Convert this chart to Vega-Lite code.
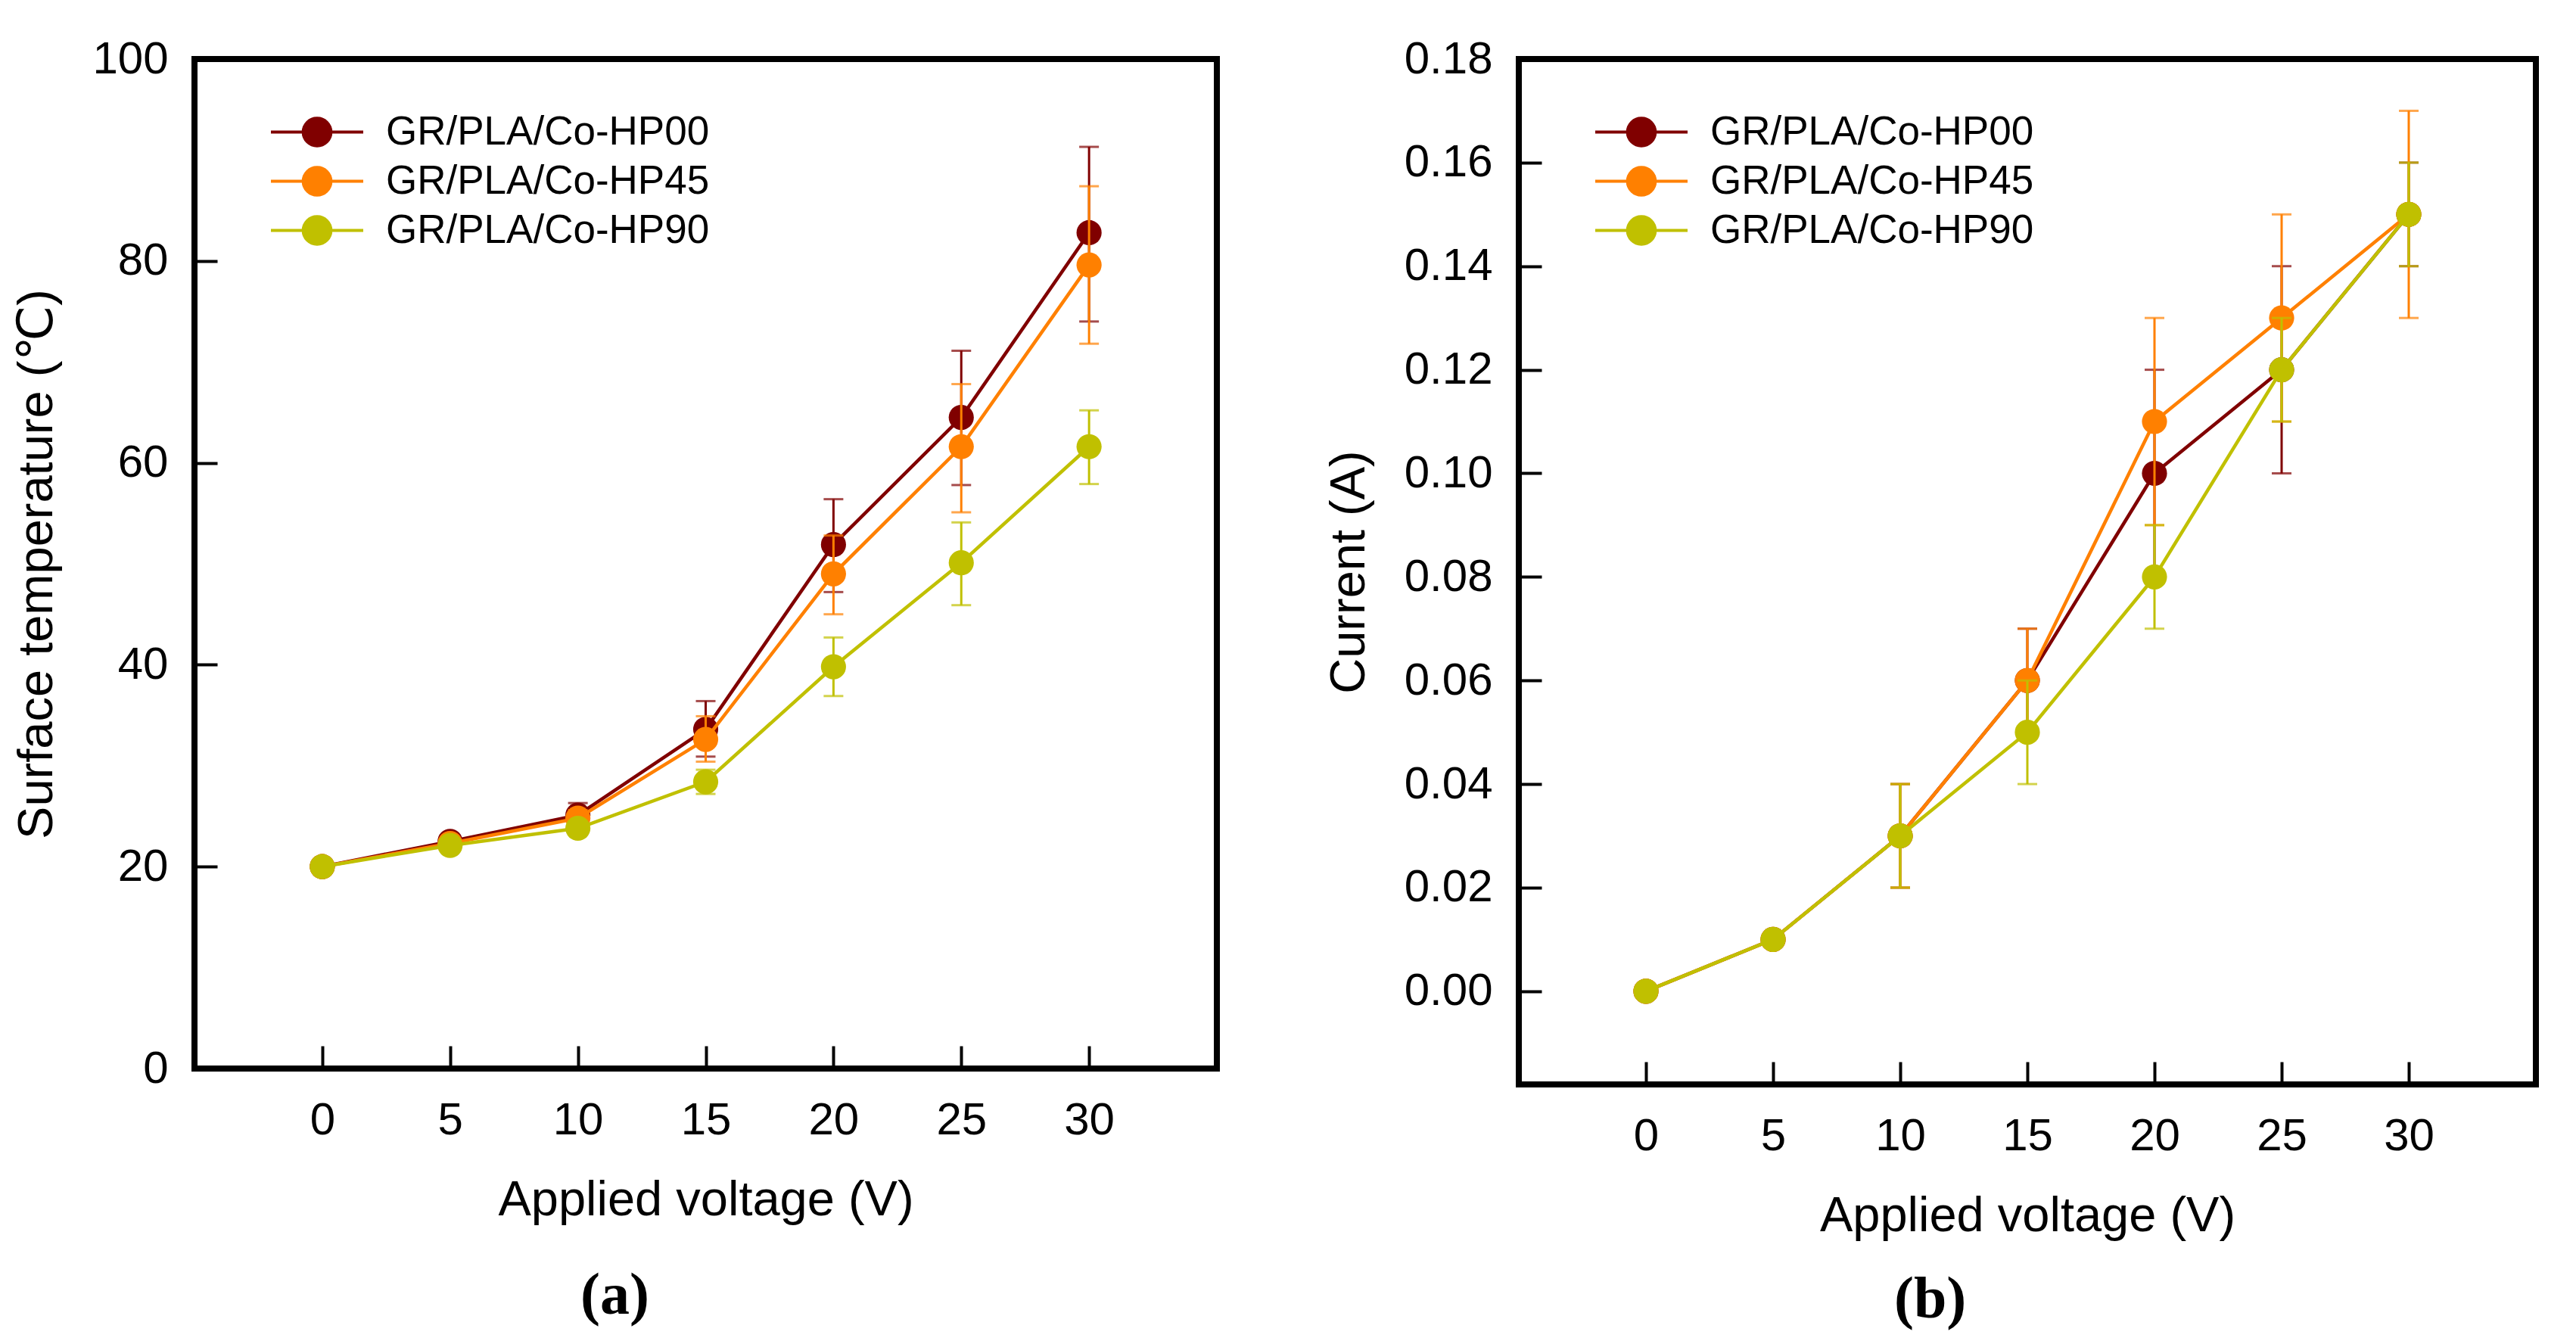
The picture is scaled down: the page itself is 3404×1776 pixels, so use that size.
{
  "$schema": "https://vega.github.io/schema/vega-lite/v6.json",
  "padding": {"left": 12, "top": 44, "right": 0, "bottom": 0},
  "background": "white",
  "datasets": {
    "temp": [
      {"v": 0, "series": "GR/PLA/Co-HP00", "val": 20.0, "lo": 19.7, "hi": 20.3},
      {"v": 5, "series": "GR/PLA/Co-HP00", "val": 22.5, "lo": 22.0, "hi": 23.0},
      {"v": 10, "series": "GR/PLA/Co-HP00", "val": 25.1, "lo": 23.9, "hi": 26.3},
      {"v": 15, "series": "GR/PLA/Co-HP00", "val": 33.6, "lo": 30.9, "hi": 36.4},
      {"v": 20, "series": "GR/PLA/Co-HP00", "val": 51.9, "lo": 47.2, "hi": 56.4},
      {"v": 25, "series": "GR/PLA/Co-HP00", "val": 64.5, "lo": 57.8, "hi": 71.1},
      {"v": 30, "series": "GR/PLA/Co-HP00", "val": 82.8, "lo": 74.0, "hi": 91.3},
      {"v": 0, "series": "GR/PLA/Co-HP45", "val": 20.0, "lo": 19.7, "hi": 20.3},
      {"v": 5, "series": "GR/PLA/Co-HP45", "val": 22.3, "lo": 21.9, "hi": 22.7},
      {"v": 10, "series": "GR/PLA/Co-HP45", "val": 24.8, "lo": 24.0, "hi": 25.6},
      {"v": 15, "series": "GR/PLA/Co-HP45", "val": 32.6, "lo": 30.4, "hi": 34.9},
      {"v": 20, "series": "GR/PLA/Co-HP45", "val": 49.0, "lo": 45.0, "hi": 52.8},
      {"v": 25, "series": "GR/PLA/Co-HP45", "val": 61.6, "lo": 55.1, "hi": 67.8},
      {"v": 30, "series": "GR/PLA/Co-HP45", "val": 79.6, "lo": 71.8, "hi": 87.4},
      {"v": 0, "series": "GR/PLA/Co-HP90", "val": 20.0, "lo": 19.7, "hi": 20.3},
      {"v": 5, "series": "GR/PLA/Co-HP90", "val": 22.1, "lo": 21.7, "hi": 22.5},
      {"v": 10, "series": "GR/PLA/Co-HP90", "val": 23.8, "lo": 23.2, "hi": 24.4},
      {"v": 15, "series": "GR/PLA/Co-HP90", "val": 28.4, "lo": 27.2, "hi": 29.6},
      {"v": 20, "series": "GR/PLA/Co-HP90", "val": 39.8, "lo": 36.9, "hi": 42.7},
      {"v": 25, "series": "GR/PLA/Co-HP90", "val": 50.1, "lo": 45.9, "hi": 54.1},
      {"v": 30, "series": "GR/PLA/Co-HP90", "val": 61.6, "lo": 57.9, "hi": 65.2}
    ],
    "curr": [
      {"v": 0, "series": "GR/PLA/Co-HP00", "val": 0.0, "lo": 0.0, "hi": 0.0},
      {"v": 5, "series": "GR/PLA/Co-HP00", "val": 0.01, "lo": 0.01, "hi": 0.01},
      {"v": 10, "series": "GR/PLA/Co-HP00", "val": 0.03, "lo": 0.02, "hi": 0.04},
      {"v": 15, "series": "GR/PLA/Co-HP00", "val": 0.06, "lo": 0.05, "hi": 0.07},
      {"v": 20, "series": "GR/PLA/Co-HP00", "val": 0.10, "lo": 0.08, "hi": 0.12},
      {"v": 25, "series": "GR/PLA/Co-HP00", "val": 0.12, "lo": 0.10, "hi": 0.14},
      {"v": 30, "series": "GR/PLA/Co-HP00", "val": 0.15, "lo": 0.14, "hi": 0.16},
      {"v": 0, "series": "GR/PLA/Co-HP45", "val": 0.0, "lo": 0.0, "hi": 0.0},
      {"v": 5, "series": "GR/PLA/Co-HP45", "val": 0.01, "lo": 0.01, "hi": 0.01},
      {"v": 10, "series": "GR/PLA/Co-HP45", "val": 0.03, "lo": 0.02, "hi": 0.04},
      {"v": 15, "series": "GR/PLA/Co-HP45", "val": 0.06, "lo": 0.05, "hi": 0.07},
      {"v": 20, "series": "GR/PLA/Co-HP45", "val": 0.11, "lo": 0.09, "hi": 0.13},
      {"v": 25, "series": "GR/PLA/Co-HP45", "val": 0.13, "lo": 0.11, "hi": 0.15},
      {"v": 30, "series": "GR/PLA/Co-HP45", "val": 0.15, "lo": 0.13, "hi": 0.17},
      {"v": 0, "series": "GR/PLA/Co-HP90", "val": 0.0, "lo": 0.0, "hi": 0.0},
      {"v": 5, "series": "GR/PLA/Co-HP90", "val": 0.01, "lo": 0.01, "hi": 0.01},
      {"v": 10, "series": "GR/PLA/Co-HP90", "val": 0.03, "lo": 0.02, "hi": 0.04},
      {"v": 15, "series": "GR/PLA/Co-HP90", "val": 0.05, "lo": 0.04, "hi": 0.06},
      {"v": 20, "series": "GR/PLA/Co-HP90", "val": 0.08, "lo": 0.07, "hi": 0.09},
      {"v": 25, "series": "GR/PLA/Co-HP90", "val": 0.12, "lo": 0.11, "hi": 0.13},
      {"v": 30, "series": "GR/PLA/Co-HP90", "val": 0.15, "lo": 0.14, "hi": 0.16}
    ]
  },
  "spacing": 134,
  "resolve": {"legend": {"color": "independent"}},
  "hconcat": [
    {
      "width": 1351,
      "height": 1334,
      "data": {"name": "temp"},
      "title": {"text": "(a)", "orient": "bottom", "anchor": "middle", "frame": "bounds", "font": "Liberation Serif", "fontSize": 78, "fontWeight": "bold", "color": "black", "offset": 56},
      "encoding": {
        "x": {"field": "v", "type": "quantitative", "scale": {"domain": [-5, 35], "nice": false, "zero": false}, "axis": {"title": "Applied voltage (V)", "values": [0, 5, 10, 15, 20, 25, 30], "format": "d"}},
        "color": {
          "field": "series", "type": "nominal",
          "scale": {"domain": ["GR/PLA/Co-HP00", "GR/PLA/Co-HP45", "GR/PLA/Co-HP90"], "range": ["#800000", "#FF8000", "#C0C000"]},
          "legend": {"title": null, "orient": "none", "legendX": 99, "legendY": 64, "padding": 0, "rowPadding": 0, "clipHeight": 65, "symbolType": "M-1,0L1,0M-0.3,0A0.3,0.3,0,1,1,0.3,0A0.3,0.3,0,1,1,-0.3,0Z", "symbolSize": 14884, "symbolStrokeWidth": 4, "labelFont": "Liberation Sans", "labelFontSize": 53, "labelColor": "black", "labelOffset": 28, "labelLimit": 1000,
            "encode": {"symbols": {"update": {"fill": {"scale": "color", "field": "value"}, "stroke": {"scale": "color", "field": "value"}, "strokeWidth": {"value": 4}, "opacity": {"value": 1}}}}}
        }
      },
      "layer": [
        {"transform": [{"filter": "datum.series === 'GR/PLA/Co-HP00'"}], "layer": [
          {"mark": {"type": "errorbar", "ticks": {"size": 26, "thickness": 3}, "rule": {"strokeWidth": 3}}, "encoding": {"y": {"field": "lo", "type": "quantitative", "scale": {"domain": [0, 100], "nice": false}, "axis": {"title": "Surface temperature (℃)", "values": [0, 20, 40, 60, 80, 100], "format": "d"}}, "y2": {"field": "hi"}}},
          {"mark": {"type": "line", "strokeWidth": 4.5}, "encoding": {"y": {"field": "val", "type": "quantitative", "axis": {"title": "Surface temperature (℃)", "values": [0, 20, 40, 60, 80, 100], "format": "d"}}}},
          {"mark": {"type": "point", "filled": true, "size": 1100, "opacity": 1}, "encoding": {"y": {"field": "val", "type": "quantitative", "axis": {"title": "Surface temperature (℃)", "values": [0, 20, 40, 60, 80, 100], "format": "d"}}}}
        ]},
        {"transform": [{"filter": "datum.series === 'GR/PLA/Co-HP45'"}], "layer": [
          {"mark": {"type": "errorbar", "ticks": {"size": 26, "thickness": 3}, "rule": {"strokeWidth": 3}}, "encoding": {"y": {"field": "lo", "type": "quantitative", "axis": {"title": "Surface temperature (℃)", "values": [0, 20, 40, 60, 80, 100], "format": "d"}}, "y2": {"field": "hi"}}},
          {"mark": {"type": "line", "strokeWidth": 4.5}, "encoding": {"y": {"field": "val", "type": "quantitative", "axis": {"title": "Surface temperature (℃)", "values": [0, 20, 40, 60, 80, 100], "format": "d"}}}},
          {"mark": {"type": "point", "filled": true, "size": 1100, "opacity": 1}, "encoding": {"y": {"field": "val", "type": "quantitative", "axis": {"title": "Surface temperature (℃)", "values": [0, 20, 40, 60, 80, 100], "format": "d"}}}}
        ]},
        {"transform": [{"filter": "datum.series === 'GR/PLA/Co-HP90'"}], "layer": [
          {"mark": {"type": "errorbar", "ticks": {"size": 26, "thickness": 3}, "rule": {"strokeWidth": 3}}, "encoding": {"y": {"field": "lo", "type": "quantitative", "axis": {"title": "Surface temperature (℃)", "values": [0, 20, 40, 60, 80, 100], "format": "d"}}, "y2": {"field": "hi"}}},
          {"mark": {"type": "line", "strokeWidth": 4.5}, "encoding": {"y": {"field": "val", "type": "quantitative", "axis": {"title": "Surface temperature (℃)", "values": [0, 20, 40, 60, 80, 100], "format": "d"}}}},
          {"mark": {"type": "point", "filled": true, "size": 1100, "opacity": 1}, "encoding": {"y": {"field": "val", "type": "quantitative", "axis": {"title": "Surface temperature (℃)", "values": [0, 20, 40, 60, 80, 100], "format": "d"}}}}
        ]}
      ]
    },
    {
      "width": 1344,
      "height": 1355,
      "data": {"name": "curr"},
      "title": {"text": "(b)", "orient": "bottom", "anchor": "middle", "frame": "bounds", "font": "Liberation Serif", "fontSize": 78, "fontWeight": "bold", "color": "black", "offset": 40},
      "encoding": {
        "x": {"field": "v", "type": "quantitative", "scale": {"domain": [-5, 35], "nice": false, "zero": false}, "axis": {"title": "Applied voltage (V)", "values": [0, 5, 10, 15, 20, 25, 30], "format": "d"}},
        "color": {
          "field": "series", "type": "nominal",
          "scale": {"domain": ["GR/PLA/Co-HP00", "GR/PLA/Co-HP45", "GR/PLA/Co-HP90"], "range": ["#800000", "#FF8000", "#C0C000"]},
          "legend": {"title": null, "orient": "none", "legendX": 99, "legendY": 64, "padding": 0, "rowPadding": 0, "clipHeight": 65, "symbolType": "M-1,0L1,0M-0.3,0A0.3,0.3,0,1,1,0.3,0A0.3,0.3,0,1,1,-0.3,0Z", "symbolSize": 14884, "symbolStrokeWidth": 4, "labelFont": "Liberation Sans", "labelFontSize": 53, "labelColor": "black", "labelOffset": 28, "labelLimit": 1000,
            "encode": {"symbols": {"update": {"fill": {"scale": "color", "field": "value"}, "stroke": {"scale": "color", "field": "value"}, "strokeWidth": {"value": 4}, "opacity": {"value": 1}}}}}
        }
      },
      "layer": [
        {"transform": [{"filter": "datum.series === 'GR/PLA/Co-HP00'"}], "layer": [
          {"mark": {"type": "errorbar", "ticks": {"size": 26, "thickness": 3}, "rule": {"strokeWidth": 3}}, "encoding": {"y": {"field": "lo", "type": "quantitative", "scale": {"domain": [-0.018, 0.18], "nice": false, "zero": false}, "axis": {"title": "Current (A)", "values": [0, 0.02, 0.04, 0.06, 0.08, 0.1, 0.12, 0.14, 0.16, 0.18], "format": ".2f"}}, "y2": {"field": "hi"}}},
          {"mark": {"type": "line", "strokeWidth": 4.5}, "encoding": {"y": {"field": "val", "type": "quantitative", "axis": {"title": "Current (A)", "values": [0, 0.02, 0.04, 0.06, 0.08, 0.1, 0.12, 0.14, 0.16, 0.18], "format": ".2f"}}}},
          {"mark": {"type": "point", "filled": true, "size": 1100, "opacity": 1}, "encoding": {"y": {"field": "val", "type": "quantitative", "axis": {"title": "Current (A)", "values": [0, 0.02, 0.04, 0.06, 0.08, 0.1, 0.12, 0.14, 0.16, 0.18], "format": ".2f"}}}}
        ]},
        {"transform": [{"filter": "datum.series === 'GR/PLA/Co-HP45'"}], "layer": [
          {"mark": {"type": "errorbar", "ticks": {"size": 26, "thickness": 3}, "rule": {"strokeWidth": 3}}, "encoding": {"y": {"field": "lo", "type": "quantitative", "axis": {"title": "Current (A)", "values": [0, 0.02, 0.04, 0.06, 0.08, 0.1, 0.12, 0.14, 0.16, 0.18], "format": ".2f"}}, "y2": {"field": "hi"}}},
          {"mark": {"type": "line", "strokeWidth": 4.5}, "encoding": {"y": {"field": "val", "type": "quantitative", "axis": {"title": "Current (A)", "values": [0, 0.02, 0.04, 0.06, 0.08, 0.1, 0.12, 0.14, 0.16, 0.18], "format": ".2f"}}}},
          {"mark": {"type": "point", "filled": true, "size": 1100, "opacity": 1}, "encoding": {"y": {"field": "val", "type": "quantitative", "axis": {"title": "Current (A)", "values": [0, 0.02, 0.04, 0.06, 0.08, 0.1, 0.12, 0.14, 0.16, 0.18], "format": ".2f"}}}}
        ]},
        {"transform": [{"filter": "datum.series === 'GR/PLA/Co-HP90'"}], "layer": [
          {"mark": {"type": "errorbar", "ticks": {"size": 26, "thickness": 3}, "rule": {"strokeWidth": 3}}, "encoding": {"y": {"field": "lo", "type": "quantitative", "axis": {"title": "Current (A)", "values": [0, 0.02, 0.04, 0.06, 0.08, 0.1, 0.12, 0.14, 0.16, 0.18], "format": ".2f"}}, "y2": {"field": "hi"}}},
          {"mark": {"type": "line", "strokeWidth": 4.5}, "encoding": {"y": {"field": "val", "type": "quantitative", "axis": {"title": "Current (A)", "values": [0, 0.02, 0.04, 0.06, 0.08, 0.1, 0.12, 0.14, 0.16, 0.18], "format": ".2f"}}}},
          {"mark": {"type": "point", "filled": true, "size": 1100, "opacity": 1}, "encoding": {"y": {"field": "val", "type": "quantitative", "axis": {"title": "Current (A)", "values": [0, 0.02, 0.04, 0.06, 0.08, 0.1, 0.12, 0.14, 0.16, 0.18], "format": ".2f"}}}}
        ]}
      ]
    }
  ],
  "config": {
    "view": {"stroke": "black", "strokeWidth": 8, "fill": "white"},
    "axis": {
      "grid": false, "domain": false,
      "ticks": true, "tickSize": -30, "tickWidth": 4, "tickColor": "black",
      "labelFont": "Liberation Sans", "labelFontSize": 60, "labelColor": "black",
      "titleFont": "Liberation Sans, DejaVu Sans", "titleFontSize": 65, "titleFontWeight": "normal", "titleColor": "black"
    },
    "axisX": {"labelPadding": 69, "titlePadding": 44},
    "axisY": {"labelPadding": 65, "titlePadding": 39}
  }
}
